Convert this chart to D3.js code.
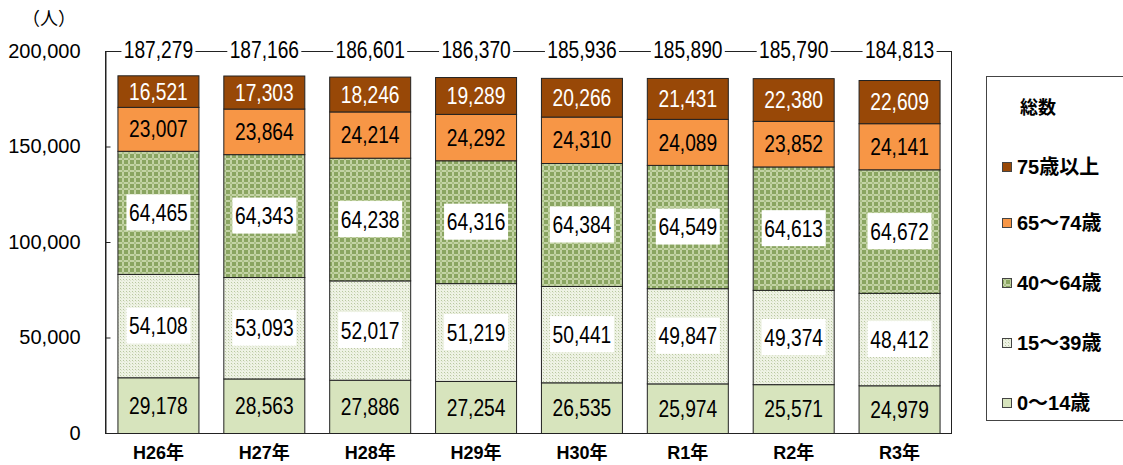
<!DOCTYPE html>
<html><head><meta charset="utf-8">
<script src="https://cdn.jsdelivr.net/npm/d3@7"></script>
<style>
body{margin:0;background:#fff;}
svg{display:block;}
</style></head>
<body>
<svg id="c" width="1123" height="465"></svg>
<script>
const categories = ["H26年","H27年","H28年","H29年","H30年","R1年","R2年","R3年"];
const age0_14   = [29178,28563,27886,27254,26535,25974,25571,24979];
const age15_39  = [54108,53093,52017,51219,50441,49847,49374,48412];
const age40_64  = [64465,64343,64238,64316,64384,64549,64613,64672];
const age65_74  = [23007,23864,24214,24292,24310,24089,23852,24141];
const age75plus = [16521,17303,18246,19289,20266,21431,22380,22609];
const totals    = [187279,187166,186601,186370,185936,185890,185790,184813];
const seriesNames = ["0～14歳","15～39歳","40～64歳","65～74歳","75歳以上"];
const yTicks = [0,50000,100000,150000,200000];

const series = [age0_14, age15_39, age40_64, age65_74, age75plus];
const fills = ["#d7e4bd","url(#pDots)","url(#pCheck)","#f79646","#984807"];
const textColors = ["#000","#000","#000","#000","#fff"];
const boxed = [false,true,true,false,false];

const numFont = "'Liberation Sans',Arial,sans-serif";
const jpFont = "'Liberation Sans','Noto Sans CJK JP',sans-serif";
const fmt = d3.format(",");

const svg = d3.select("#c");
const defs = svg.append("defs");
const p1 = defs.append("pattern").attr("id","pCheck").attr("patternUnits","userSpaceOnUse").attr("width",6).attr("height",6);
p1.append("rect").attr("width",6).attr("height",6).attr("fill","#8aa561");
[[2,0],[0,2],[4,2],[2,4]].forEach(([a,b])=>p1.append("rect").attr("x",a).attr("y",b).attr("width",2).attr("height",2).attr("fill","#c3d3a5"));
p1.append("rect").attr("x",2).attr("y",2).attr("width",2).attr("height",2).attr("fill","#a9bf84");
const p2 = defs.append("pattern").attr("id","pDots").attr("patternUnits","userSpaceOnUse").attr("width",3).attr("height",3);
p2.append("rect").attr("width",3).attr("height",3).attr("fill","#eef2e4");
p2.append("rect").attr("x",0).attr("y",0).attr("width",1).attr("height",1).attr("fill","#b9c8a0");
p2.append("rect").attr("x",1).attr("y",1).attr("width",1).attr("height",1).attr("fill","#dbe3cb");

const L = 105, R = 952, T = 51, B = 433;
const x = d3.scaleBand().domain(categories).range([L,R]).paddingInner(0.235).paddingOuter(0.1175);
const y = d3.scaleLinear().domain([0,200000]).range([B,T]);

svg.append("rect").attr("x",L+0.5).attr("y",T+0.5).attr("width",R-L-1).attr("height",B-T)
  .attr("fill","none").attr("stroke","#222").attr("stroke-width",1);

const ax = svg.append("g").attr("transform",`translate(${L+0.5},0)`)
  .call(d3.axisLeft(y).tickValues(yTicks).tickFormat(fmt).tickSizeInner(-5).tickSizeOuter(0).tickPadding(25));
ax.select(".domain").attr("stroke","#222");
ax.selectAll(".tick line").attr("stroke","#222");
ax.selectAll("text").attr("font-family",jpFont).attr("font-size",20).attr("fill","#000");

svg.append("text").attr("x",22).attr("y",25).attr("font-family","'Noto Sans CJK JP',sans-serif")
  .attr("font-size",18).text("（人）");

const stackData = categories.map((c,i)=>{
  const o = {cat:c}; series.forEach((s,k)=>o["s"+k]=s[i]); return o;});
const stack = d3.stack().keys(series.map((s,k)=>"s"+k))(stackData);

function narrowText(g, cx, cy, txt, color){
  g.append("text").attr("transform",`translate(${cx},${cy}) scale(0.8,1)`)
    .attr("dy","0.36em").attr("text-anchor","middle")
    .attr("font-family",numFont).attr("font-size",24).attr("fill",color).text(txt);
}

stack.forEach((layer,k)=>{
  svg.append("g").selectAll("rect").data(layer).join("rect")
    .attr("x",d=>x(d.data.cat)+0.5)
    .attr("y",d=>y(d[1])+0.5)
    .attr("width",x.bandwidth())
    .attr("height",d=>y(d[0])-y(d[1]))
    .attr("fill",fills[k]).attr("stroke","#222").attr("stroke-width",1);
});
stack.forEach((layer,k)=>{
  const g = svg.append("g");
  layer.forEach(d=>{
    const cx = x(d.data.cat)+x.bandwidth()/2+0.5;
    const cy = (y(d[0])+y(d[1]))/2;
    if(boxed[k]){
      g.append("rect").attr("x",cx-32).attr("y",cy-18).attr("width",64).attr("height",36).attr("fill","#fff");
    }
    narrowText(g, cx, cy, fmt(d[1]-d[0]), textColors[k]);
  });
});

const tg = svg.append("g");
categories.forEach((c,i)=>{
  const cx = x(c)+x.bandwidth()/2+0.5;
  tg.append("rect").attr("x",cx-37).attr("y",T-12).attr("width",74).attr("height",22).attr("fill","#fff");
  narrowText(tg, cx, T-2, fmt(totals[i]), "#000");
});

svg.append("g").selectAll("text").data(categories).join("text")
  .attr("x",d=>x(d)+x.bandwidth()/2+0.5).attr("y",453).attr("dy","0.36em").attr("text-anchor","middle")
  .attr("font-family",jpFont).attr("font-size",18).attr("font-weight","bold").attr("fill","#000").text(d=>d);

svg.append("rect").attr("x",986.5).attr("y",76.5).attr("width",160).attr("height",344)
  .attr("fill","#fff").attr("stroke","#444");
svg.append("text").attr("x",1020).attr("y",108).attr("dy","0.36em")
  .attr("font-family","'Noto Sans CJK JP',sans-serif").attr("font-weight","bold").attr("font-size",18).text("総数");
const legY = [167,223,283,343,403];
const order = [4,3,2,1,0];
order.forEach((k,j)=>{
  svg.append("rect").attr("x",1002.5).attr("y",legY[j]-4.5).attr("width",9).attr("height",9)
    .attr("fill",fills[k]).attr("stroke","#444").attr("stroke-width",1);
  svg.append("text").attr("x",1017).attr("y",legY[j]).attr("dy","0.36em")
    .attr("font-family",jpFont).attr("font-size",20).attr("font-weight","bold").text(seriesNames[k]);
});
</script>
</body></html>
